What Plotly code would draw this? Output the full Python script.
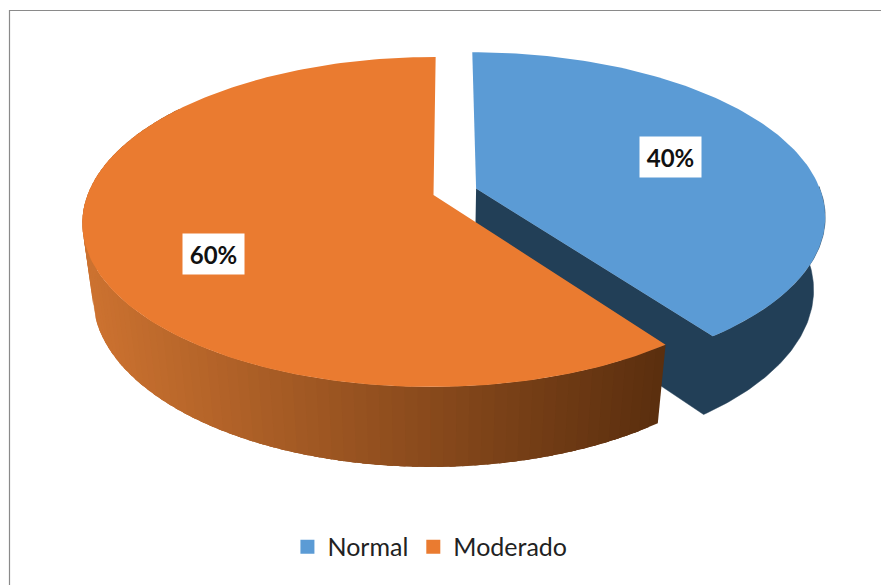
import numpy as np
import plotly.graph_objects as go

categories = ["Normal", "Moderado"]
values = [40, 60]
colors = ["#5B9BD5", "#EA7B30"]
label_text = ["40%", "60%"]

WIDTH, HEIGHT = 881, 585
CX, CY = 433.5, 195.0
AX, BY, HZ = 346.0, 160.6, 75.0
P, Q = 0.1636, 0.03
SHEAR = 2.5
EXPLODE = 0.13
WALL_BLUE = "#223F57"
WALL_L = np.array([204, 114, 48])
WALL_R = np.array([90, 46, 14])


def project(theta, r, z=0.0, off=(0.0, 0.0)):
    X = r * np.sin(theta) + off[0]
    Y = r * np.cos(theta) + off[1]
    w = 1 + P * Y + Q * z
    return CX + (AX * X + SHEAR * Y) / w, CY + (-BY * Y + HZ * z) / w


def poly(xs, ys, color, lw=0.0):
    return go.Scatter(x=list(xs), y=list(ys), mode="lines", fill="toself", fillcolor=color,
                      line=dict(color=color, width=lw), hoverinfo="skip", showlegend=False)


fig = go.Figure()
total = sum(values)
a0 = 0.0
a1 = 2 * np.pi * values[0] / total
a2 = 2 * np.pi
mid = (a0 + a1) / 2
off = (EXPLODE * np.sin(mid), EXPLODE * np.cos(mid))

# Blue wedge: outer wall and cut face as one outline, the top covers it
t = np.linspace(a0 + (a1 - a0) * 0.62, a1, 80)
xt, yt = project(t, 1.0, 0.0, off)
xb, yb = project(t, 1.0, 1.0, off)
ax0, ay0 = project(0.0, 0.0, 0.0, off)
ax1, ay1 = project(0.0, 0.0, 1.0, off)
fig.add_trace(poly(np.r_[ax1, xb[::-1], xt, ax0], np.r_[ay1, yb[::-1], yt, ay0], WALL_BLUE, 0.5))
t = np.linspace(a0, a1, 120)
xt, yt = project(t, 1.0, 0.0, off)
fig.add_trace(poly(np.r_[ax0, xt], np.r_[ay0, yt], colors[0]))

# Orange wedge: shaded outer wall, then top
n = 90
edges = np.linspace(a1, a1 + (a2 - a1) * 0.75, n + 1)
xl = project(np.pi * 1.5, 1.0)[0]
xr = project(a1, 1.0)[0]
step = edges[1] - edges[0]
for i in range(n):
    s = np.linspace(edges[i], min(edges[i] + 2.5 * step, edges[-1]), 5)
    x1, y1 = project(s, 1.0, 0.0)
    x2, y2 = project(s, 1.0, 1.0)
    f = np.clip((project(edges[i] + step / 2, 1.0)[0] - xl) / (xr - xl), 0, 1)
    c = (WALL_L + (WALL_R - WALL_L) * f).round().astype(int)
    fig.add_trace(poly(np.r_[x1, x2[::-1]], np.r_[y1, y2[::-1]], f"rgb({c[0]},{c[1]},{c[2]})"))
t = np.linspace(a1, a2, 200)
xt, yt = project(t, 1.0)
ox, oy = project(0.0, 0.0)
fig.add_trace(poly(np.r_[ox, xt], np.r_[oy, yt], colors[1]))

# Legend entries
for name, col in zip(categories, colors):
    fig.add_trace(go.Scatter(x=[None], y=[None], mode="markers", name=name,
                             marker=dict(symbol="square", size=14, color=col)))

fig.update_layout(
    width=WIDTH, height=HEIGHT, autosize=False,
    margin=dict(l=0, r=0, t=0, b=0),
    paper_bgcolor="white", plot_bgcolor="white",
    xaxis=dict(range=[0, WIDTH], visible=False, fixedrange=True),
    yaxis=dict(range=[HEIGHT, 0], visible=False, fixedrange=True),
    legend=dict(orientation="h", x=0.488, y=0.065, xanchor="center", yanchor="middle",
                font=dict(family="Lato", size=25, color="#222222"),
                itemwidth=30, bgcolor="rgba(0,0,0,0)"),
    shapes=[
        dict(type="line", xref="x", yref="y", x0=9.5, x1=9.5, y0=10, y1=585,
             line=dict(color="#8A8A8A", width=1.2)),
        dict(type="line", xref="x", yref="y", x0=9.5, x1=881, y0=10.5, y1=10.5,
             line=dict(color="#8A8A8A", width=1.2)),
    ],
    annotations=[
        dict(x=670.5, y=157, xref="x", yref="y", text=f"<b>{label_text[0]}</b>", showarrow=False,
             font=dict(family="Lato", size=24, color="#111111"), bgcolor="white",
             width=59, height=38, align="center", valign="middle"),
        dict(x=213.5, y=253.5, xref="x", yref="y", text=f"<b>{label_text[1]}</b>", showarrow=False,
             font=dict(family="Lato", size=24, color="#111111"), bgcolor="white",
             width=59, height=38, align="center", valign="middle"),
    ],
)
fig.write_html("out.html", config={"displayModeBar": False},
               post_script="document.body.style.margin='0';document.body.style.overflow='hidden';")
